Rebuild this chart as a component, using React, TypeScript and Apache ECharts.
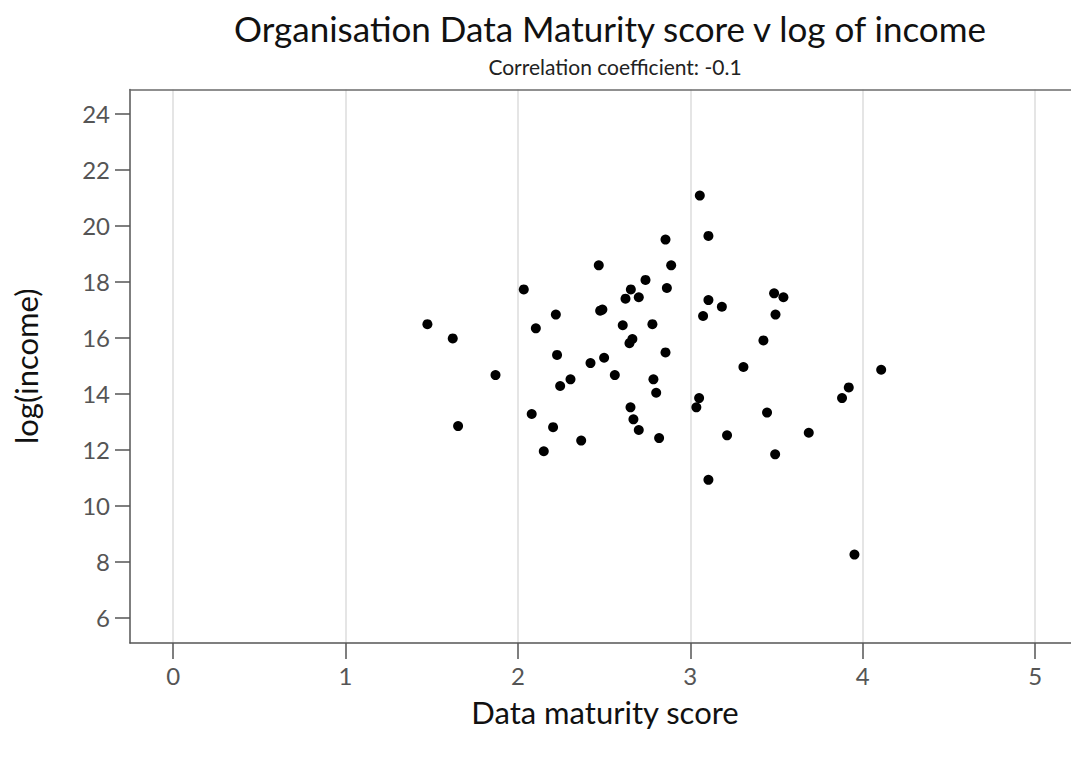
import React, { useEffect, useRef } from "react";
import * as echarts from "echarts";

const maturityScores: number[] = [
  1.475, 1.622, 1.653, 1.87, 2.034, 2.104, 2.22, 2.227, 2.245, 2.305,
  2.08, 2.204, 2.15, 2.367, 2.421, 2.469, 2.477, 2.49, 2.5, 2.562,
  2.608, 2.624, 2.655, 2.701, 2.74, 2.78, 2.647, 2.664, 2.653, 2.67,
  2.701, 2.786, 2.802, 2.819, 2.856, 2.856, 2.889, 2.864, 3.055, 3.105,
  3.105, 3.183, 3.074, 3.051, 3.035, 3.105, 3.213, 3.308, 3.424, 3.445,
  3.486, 3.54, 3.494, 3.492, 3.687, 3.88, 3.919, 3.952, 4.107,
];
const logIncome: number[] = [
  16.47, 15.96, 12.83, 14.65, 17.71, 16.32, 16.81, 15.37, 14.26, 14.5,
  13.26, 12.79, 11.93, 12.31, 15.08, 18.57, 16.95, 16.99, 15.27, 14.65,
  16.43, 17.38, 17.71, 17.43, 18.05, 16.47, 15.79, 15.94, 13.5, 13.07,
  12.69, 14.5, 14.02, 12.4, 15.46, 19.49, 18.57, 17.76, 21.06, 19.62,
  17.33, 17.09, 16.76, 13.83, 13.5, 10.91, 12.5, 14.94, 15.89, 13.31,
  17.57, 17.43, 16.81, 11.82, 12.59, 13.83, 14.21, 8.24, 14.84,
];
const xTicks: number[] = [0, 1, 2, 3, 4, 5];
const yTicks: number[] = [6, 8, 10, 12, 14, 16, 18, 20, 22, 24];

const titleText = "Organisation Data Maturity score v log of income";
const subtitleText = "Correlation coefficient: -0.1";
const xName = "Data maturity score";
const yName = "log(income)";

const FONT = "Lato, 'Open Sans', sans-serif";

export default function App() {
  const ref = useRef<HTMLDivElement>(null);
  useEffect(() => {
    document.body.style.margin = "0";
    if (!ref.current) return;
    const chart = echarts.init(ref.current, undefined, { renderer: "svg" });
    const points = maturityScores.map((x, i) => [x, logIncome[i]]);
    chart.setOption({
      animation: false,
      backgroundColor: "#ffffff",
      textStyle: { fontFamily: FONT },
      title: [
        {
          text: titleText,
          left: 605,
          top: 5,
          textAlign: "center",
          textStyle: { fontFamily: FONT, fontSize: 35, fontWeight: "normal", color: "#111" },
        },
        {
          text: subtitleText,
          left: 610,
          top: 51,
          textAlign: "center",
          textStyle: { fontFamily: FONT, fontSize: 21, fontWeight: "normal", color: "#222" },
        },
        {
          text: xName,
          left: 600,
          top: 691,
          textAlign: "center",
          textStyle: { fontFamily: FONT, fontSize: 31, fontWeight: "normal", color: "#111" },
        },
      ],
      grid: {
        left: 130,
        right: 0,
        top: 89.5,
        bottom: 114,
        containLabel: false,
        outerBoundsMode: "none",
      },
      xAxis: [
        {
          type: "value",
          min: -0.25,
          max: 5.208,
          axisLine: { show: true, onZero: false, lineStyle: { color: "#555", width: 1.5 } },
          axisTick: { show: true, customValues: xTicks, length: 16, lineStyle: { color: "#555", width: 1.5 } },
          axisLabel: {
            customValues: xTicks,
            fontSize: 24,
            color: "#555",
            margin: 20,
            fontFamily: FONT,
          },
          splitLine: { show: true, lineStyle: { color: "#dcdcdc", width: 1.5 } },
        },
        {
          type: "value",
          position: "top",
          min: -0.25,
          max: 5.208,
          axisLine: { show: true, onZero: false, lineStyle: { color: "#6b6b6b", width: 1.5 } },
          axisTick: { show: false },
          axisLabel: { show: false },
          splitLine: { show: false },
        },
      ],
      yAxis: {
        type: "value",
        min: 5.082,
        max: 24.85,
        name: yName,
        nameLocation: "middle",
        nameGap: 89,
        nameTextStyle: { fontFamily: FONT, fontSize: 31, color: "#111" },
        axisLine: { show: true, onZero: false, lineStyle: { color: "#555", width: 1.5 } },
        axisTick: { show: true, customValues: yTicks, length: 15, lineStyle: { color: "#555", width: 1.5 } },
        axisLabel: {
          customValues: yTicks,
          fontSize: 24,
          color: "#555",
          margin: 20,
          fontFamily: FONT,
        },
        splitLine: { show: false },
      },
      series: [
        {
          type: "scatter",
          xAxisIndex: 0,
          data: points,
          symbol: "circle",
          symbolSize: 10,
          itemStyle: { color: "#000", opacity: 1 },
        },
      ],
    });
    return () => chart.dispose();
  }, []);
  return <div ref={ref} style={{ width: 1071, height: 757 }} />;
}
